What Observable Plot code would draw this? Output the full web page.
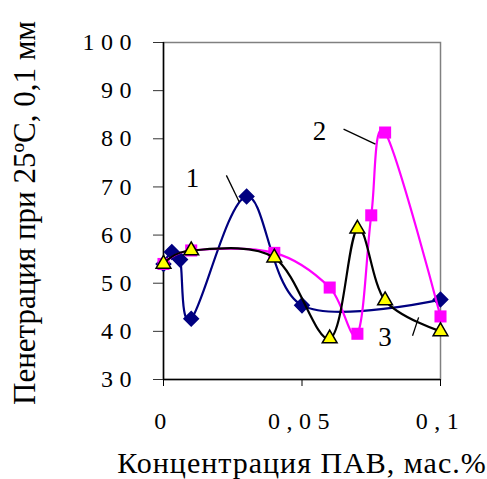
<!DOCTYPE html>
<html>
<head>
<meta charset="utf-8">
<script src="https://cdn.jsdelivr.net/npm/d3@7"></script>
<script src="https://cdn.jsdelivr.net/npm/@observablehq/plot@0.6"></script>
<style>
  html, body { margin: 0; padding: 0; background: white; }
  svg [aria-label="y-axis tick label"] text,
  svg [aria-label="x-axis tick label"] text { letter-spacing: 6.5px; }
</style>
</head>
<body>
<div id="chart"></div>
<script>
// Series 1 (navy diamonds)
const x1 = [0, 0.003, 0.006, 0.01, 0.03, 0.05, 0.1];
const y1 = [54, 56.5, 54.9, 42.6, 68, 45.4, 46.6];
// Series 2 (magenta squares)
const x2 = [0, 0.01, 0.04, 0.06, 0.07, 0.075, 0.08, 0.1];
const y2 = [54, 56.8, 56.3, 49.1, 39.5, 64.1, 81.3, 43.1];
// Series 3 (black line, yellow triangles)
const x3 = [0, 0.01, 0.04, 0.06, 0.07, 0.08, 0.1];
const y3 = [54, 56.8, 55.3, 38.5, 61.3, 46.4, 40];

const xTicks = [0, 0.05, 0.1];
const xTickLabels = ["0", "0,05", "0,1"];
const yTicks = [30, 40, 50, 60, 70, 80, 90, 100];

const seriesLabels = ["1", "2", "3"];
const labelX = [0.0105, 0.0563, 0.0800];
const labelY = [71.8, 81.5, 38.7];
const leaderX1 = [0.0227, 0.0650, 0.0899];
const leaderY1 = [72.4, 82.0, 39.1];
const leaderX2 = [0.0274, 0.0765, 0.0921];
const leaderY2 = [66.8, 78.9, 42.9];

const xTitle = "Концентрация ПАВ, мас.%";
const yTitle = "Пенетрация при 25ºС, 0,1 мм";

const s1 = x1.map((x, i) => ({x, y: y1[i]}));
const s2 = x2.map((x, i) => ({x, y: y2[i]}));
const s3 = x3.map((x, i) => ({x, y: y3[i]}));
const labels = seriesLabels.map((t, i) => ({t, x: labelX[i], y: labelY[i]}));
const leaders = seriesLabels.map((t, i) => ({x1: leaderX1[i], y1: leaderY1[i], x2: leaderX2[i], y2: leaderY2[i]}));

const chart = Plot.plot({
  width: 487,
  height: 479,
  marginLeft: 163,
  marginRight: 47,
  marginTop: 42,
  marginBottom: 100,
  style: {fontFamily: "Liberation Serif", background: "white", color: "black", overflow: "visible"},
  x: {domain: [0, 0.1], label: null},
  y: {domain: [30, 100], label: null},
  marks: [
    Plot.frame({stroke: "#808080", strokeWidth: 1.5}),
    Plot.axisY(yTicks, {tickSize: 10, tickPadding: 15.5, fontSize: 24, stroke: "#333", label: null}),
    Plot.axisX(xTicks, {tickSize: 7, tickPadding: 25, fontSize: 24, tickFormat: (d, i) => xTickLabels[xTicks.indexOf(d)], label: null}),
    Plot.ruleX([0], {stroke: "black", strokeWidth: 1.5}),
    Plot.ruleY([30], {stroke: "black", strokeWidth: 1.5}),
    Plot.line(s1, {x: "x", y: "y", curve: "cardinal", stroke: "#000080", strokeWidth: 2.2}),
    Plot.dot(s1, {x: "x", y: "y", symbol: "diamond2", r: 6.5, fill: "#000080", stroke: "#000080"}),
    Plot.line(s2, {x: "x", y: "y", curve: "cardinal", stroke: "#FF00FF", strokeWidth: 2.2}),
    Plot.dot(s2, {x: "x", y: "y", symbol: "square", r: 6.8, fill: "#FF00FF", stroke: "none"}),
    Plot.line(s3, {x: "x", y: "y", curve: "cardinal", stroke: "black", strokeWidth: 2.2}),
    Plot.dot(s3, {x: "x", y: "y", symbol: "triangle", r: 5.5, fill: "#FFFF00", stroke: "black", strokeWidth: 1.5}),
    Plot.link(leaders, {x1: "x1", y1: "y1", x2: "x2", y2: "y2", stroke: "black", strokeWidth: 1.3}),
    Plot.text(labels, {x: "x", y: "y", text: "t", fontSize: 27, fill: "black"}),
    Plot.text([yTitle], {frameAnchor: "left", textAnchor: "middle", lineAnchor: "middle", dx: -138, dy: 2, rotate: -90, fontSize: 31, fill: "black"}),
    Plot.text([xTitle], {frameAnchor: "bottom", textAnchor: "middle", lineAnchor: "middle", dx: 0, dy: 84, fontSize: 30, fill: "black"})
  ]
});
d3.select(chart).selectAll("text").filter(function() { return this.textContent === xTitle; })
  .style("letter-spacing", "1px");
document.getElementById("chart").appendChild(chart);
</script>
</body>
</html>
